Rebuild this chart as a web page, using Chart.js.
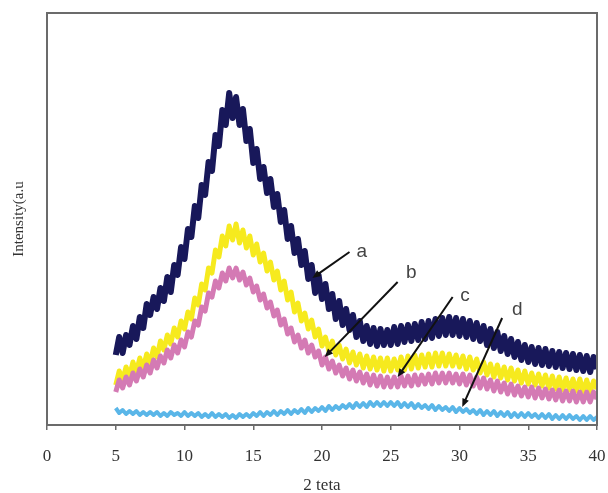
<!DOCTYPE html>
<html>
<head>
<meta charset="utf-8">
<script src="https://cdn.jsdelivr.net/npm/chart.js@4/dist/chart.umd.min.js"></script>
<style>
  html, body { margin: 0; padding: 0; background: #fff; }
  #wrap { width: 608px; height: 493px; }
</style>
</head>
<body>
<div id="wrap"><canvas id="xrd"></canvas></div>
<script>
// 2 theta sampling positions (degrees)
const twoTheta = [
  5, 5.25, 5.5, 5.75, 6, 6.25, 6.5, 6.75, 7, 7.25, 7.5, 7.75, 8, 8.25, 8.5, 8.75,
  9, 9.25, 9.5, 9.75, 10, 10.25, 10.5, 10.75, 11, 11.25, 11.5, 11.75, 12, 12.25, 12.5, 12.75,
  13, 13.25, 13.5, 13.75, 14, 14.25, 14.5, 14.75, 15, 15.25, 15.5, 15.75, 16, 16.25, 16.5, 16.75,
  17, 17.25, 17.5, 17.75, 18, 18.25, 18.5, 18.75, 19, 19.25, 19.5, 19.75, 20, 20.25, 20.5, 20.75,
  21, 21.25, 21.5, 21.75, 22, 22.25, 22.5, 22.75, 23, 23.25, 23.5, 23.75, 24, 24.25, 24.5, 24.75,
  25, 25.25, 25.5, 25.75, 26, 26.25, 26.5, 26.75, 27, 27.25, 27.5, 27.75, 28, 28.25, 28.5, 28.75,
  29, 29.25, 29.5, 29.75, 30, 30.25, 30.5, 30.75, 31, 31.25, 31.5, 31.75, 32, 32.25, 32.5, 32.75,
  33, 33.25, 33.5, 33.75, 34, 34.25, 34.5, 34.75, 35, 35.25, 35.5, 35.75, 36, 36.25, 36.5, 36.75,
  37, 37.25, 37.5, 37.75, 38, 38.25, 38.5, 38.75, 39, 39.25, 39.5, 39.75, 40
];

// intensities (a.u.)
const seriesA = [
  70, 88, 72, 90, 80, 99, 86, 108, 97, 121, 110, 128, 116, 137, 124, 148,
  133, 160, 150, 178, 166, 196, 188, 219, 207, 240, 230, 263, 254, 290, 279, 315,
  300, 332, 307, 328, 300, 316, 284, 296, 262, 276, 246, 258, 232, 246, 218, 231,
  203, 215, 186, 199, 172, 186, 160, 174, 146, 160, 132, 150, 126, 141, 116, 131,
  106, 124, 100, 116, 95, 110, 88, 104, 84, 99, 81, 97, 79, 96, 80, 95,
  80, 98, 81, 99, 83, 100, 84, 101, 85, 103, 86, 104, 87, 106, 89, 107,
  90, 108, 90, 107, 89, 106, 88, 104, 86, 102, 84, 99, 80, 96, 77, 93,
  74, 89, 71, 86, 68, 83, 65, 80, 63, 78, 61, 77, 60, 76, 59, 74,
  58, 73, 57, 72, 56, 71, 55, 70, 54, 69, 53, 68, 56
];
const seriesB = [
  40, 54, 45, 58, 49, 63, 53, 67, 57, 71, 62, 77, 68, 84, 75, 90,
  81, 97, 88, 104, 96, 113, 106, 127, 120, 141, 135, 157, 152, 175, 168, 189,
  179, 199, 185, 201, 182, 195, 177, 189, 170, 181, 163, 172, 154, 163, 145, 154,
  135, 144, 125, 133, 113, 122, 104, 112, 96, 105, 88, 96, 79, 88, 74, 84,
  70, 80, 66, 76, 62, 73, 60, 71, 57, 69, 56, 68, 55, 67, 54, 67,
  54, 66, 55, 68, 55, 69, 56, 70, 57, 70, 58, 71, 58, 72, 59, 72,
  59, 71, 59, 70, 58, 69, 56, 68, 55, 66, 52, 63, 50, 61, 48, 60,
  47, 58, 45, 57, 44, 55, 42, 54, 41, 52, 40, 51, 39, 50, 37, 49,
  36, 48, 35, 47, 35, 46, 34, 46, 33, 45, 33, 44, 36
];
const seriesC = [
  33, 45, 37, 48, 40, 52, 44, 56, 48, 60, 52, 65, 57, 69, 62, 75,
  67, 80, 72, 85, 78, 93, 88, 104, 100, 118, 114, 132, 128, 144, 137, 152,
  144, 157, 147, 157, 145, 153, 140, 147, 133, 139, 125, 131, 117, 123, 109, 115,
  100, 106, 91, 97, 83, 90, 77, 85, 72, 80, 68, 74, 60, 68, 56, 64,
  52, 60, 49, 57, 46, 55, 44, 53, 42, 51, 40, 50, 39, 49, 38, 48,
  38, 48, 38, 49, 39, 49, 39, 50, 40, 50, 41, 51, 41, 52, 42, 52,
  42, 52, 42, 51, 41, 51, 40, 50, 39, 48, 37, 47, 36, 45, 34, 44,
  33, 42, 31, 41, 30, 39, 29, 38, 28, 38, 27, 37, 27, 36, 26, 35,
  25, 35, 24, 34, 24, 34, 23, 33, 23, 33, 23, 33, 26
];
const seriesD = [
  17, 12, 15, 11, 14, 11, 14, 10, 13, 10, 13, 10, 13, 9, 12, 9,
  13, 10, 12, 9, 13, 9, 12, 9, 12, 8, 11, 8, 12, 8, 11, 8,
  11, 7, 10, 7, 11, 8, 11, 8, 12, 9, 13, 9, 13, 10, 14, 10,
  14, 11, 15, 11, 15, 12, 16, 12, 17, 13, 17, 14, 18, 14, 19, 15,
  19, 16, 20, 17, 21, 17, 22, 18, 22, 18, 23, 19, 23, 19, 23, 19,
  23, 19, 23, 18, 22, 18, 22, 17, 21, 17, 20, 16, 20, 15, 19, 15,
  18, 14, 18, 13, 17, 13, 16, 12, 15, 11, 15, 10, 14, 10, 14, 9,
  13, 9, 13, 8, 12, 8, 12, 8, 12, 8, 11, 7, 11, 7, 11, 6,
  10, 6, 10, 6, 10, 6, 9, 5, 9, 5, 9, 5, 8
];

const xTicks = [0, 5, 10, 15, 20, 25, 30, 35, 40];

// curve labels: text anchor and arrow from/to, in data units
const labelText = ['a', 'b', 'c', 'd'];
const labelAt = [[22.9, 173], [26.5, 152], [30.4, 129], [34.2, 115]];
const arrowFrom = [[22.0, 173], [25.5, 143], [29.5, 128], [33.1, 107]];
const arrowTo = [[19.3, 147], [20.2, 68], [25.5, 48], [30.2, 18]];

function pts(ys) {
  return ys.map((y, i) => ({ x: twoTheta[i], y: y }));
}

const frame = {
  id: 'frame',
  afterDatasetsDraw(chart) {
    const { ctx, chartArea: a, scales } = chart;
    ctx.save();
    // arrows and letters
    ctx.strokeStyle = '#111';
    ctx.fillStyle = '#111';
    ctx.lineWidth = 2;
    for (let i = 0; i < labelText.length; i++) {
      const x1 = scales.x.getPixelForValue(arrowFrom[i][0]);
      const y1 = scales.y.getPixelForValue(arrowFrom[i][1]);
      const x2 = scales.x.getPixelForValue(arrowTo[i][0]);
      const y2 = scales.y.getPixelForValue(arrowTo[i][1]);
      const ang = Math.atan2(y2 - y1, x2 - x1);
      const hl = 9;
      ctx.beginPath();
      ctx.moveTo(x1, y1);
      ctx.lineTo(x2 - Math.cos(ang) * hl * 0.8, y2 - Math.sin(ang) * hl * 0.8);
      ctx.stroke();
      ctx.beginPath();
      ctx.moveTo(x2, y2);
      ctx.lineTo(x2 - hl * Math.cos(ang - 0.4), y2 - hl * Math.sin(ang - 0.4));
      ctx.lineTo(x2 - hl * Math.cos(ang + 0.4), y2 - hl * Math.sin(ang + 0.4));
      ctx.closePath();
      ctx.fill();
    }
    ctx.fillStyle = '#444';
    ctx.font = '19px "Liberation Sans", Arial, sans-serif';
    ctx.textAlign = 'center';
    ctx.textBaseline = 'middle';
    for (let i = 0; i < labelText.length; i++) {
      ctx.fillText(labelText[i],
        scales.x.getPixelForValue(labelAt[i][0]),
        scales.y.getPixelForValue(labelAt[i][1]));
    }
    // plot box
    ctx.strokeStyle = '#6b6b6b';
    ctx.lineWidth = 2;
    ctx.strokeRect(a.left, a.top, a.right - a.left, a.bottom - a.top);
    ctx.restore();
  }
};

new Chart(document.getElementById('xrd'), {
  type: 'line',
  data: {
    datasets: [
      { label: 'a', data: pts(seriesA), borderColor: '#18185a', borderWidth: 6, order: 1 },
      { label: 'c', data: pts(seriesC), borderColor: '#d47ab4', borderWidth: 5, order: 2 },
      { label: 'b', data: pts(seriesB), borderColor: '#f6ea1e', borderWidth: 5, order: 3 },
      { label: 'd', data: pts(seriesD), borderColor: '#5ab6e8', borderWidth: 4, order: 4 }
    ]
  },
  options: {
    responsive: true,
    maintainAspectRatio: false,
    animation: false,
    layout: { padding: { top: 13, right: 11, left: 0, bottom: 0 } },
    elements: { point: { radius: 0 }, line: { tension: 0, borderJoinStyle: 'round' } },
    plugins: { legend: { display: false }, tooltip: { enabled: false } },
    scales: {
      x: {
        type: 'linear',
        min: 0,
        max: 40,
        afterBuildTicks(scale) {
          scale.ticks = xTicks.map(v => ({ value: v }));
        },
        afterFit(scale) {
          scale.height = 68;
          scale.paddingRight = 0;
          scale.paddingLeft = 0;
        },
        grid: { drawOnChartArea: false, drawTicks: true, tickLength: 5, color: '#6b6b6b', lineWidth: 1.5 },
        border: { display: false },
        ticks: {
          padding: 16,
          color: '#333',
          font: { family: '"Liberation Serif", "Times New Roman", serif', size: 17 }
        },
        title: {
          display: true,
          text: '2 teta',
          color: '#333',
          padding: { top: 0, bottom: 0 },
          font: { family: '"Liberation Serif", "Times New Roman", serif', size: 17, lineHeight: 0.9 }
        }
      },
      y: {
        min: 0,
        max: 412,
        afterFit(scale) { scale.width = 47; },
        grid: { display: false },
        border: { display: false },
        ticks: { display: false },
        title: {
          display: true,
          text: 'Intensity(a.u',
          color: '#333',
          padding: { top: 10, bottom: 0 },
          font: { family: '"Liberation Serif", "Times New Roman", serif', size: 15 }
        }
      }
    }
  },
  plugins: [frame]
});
</script>
</body>
</html>
